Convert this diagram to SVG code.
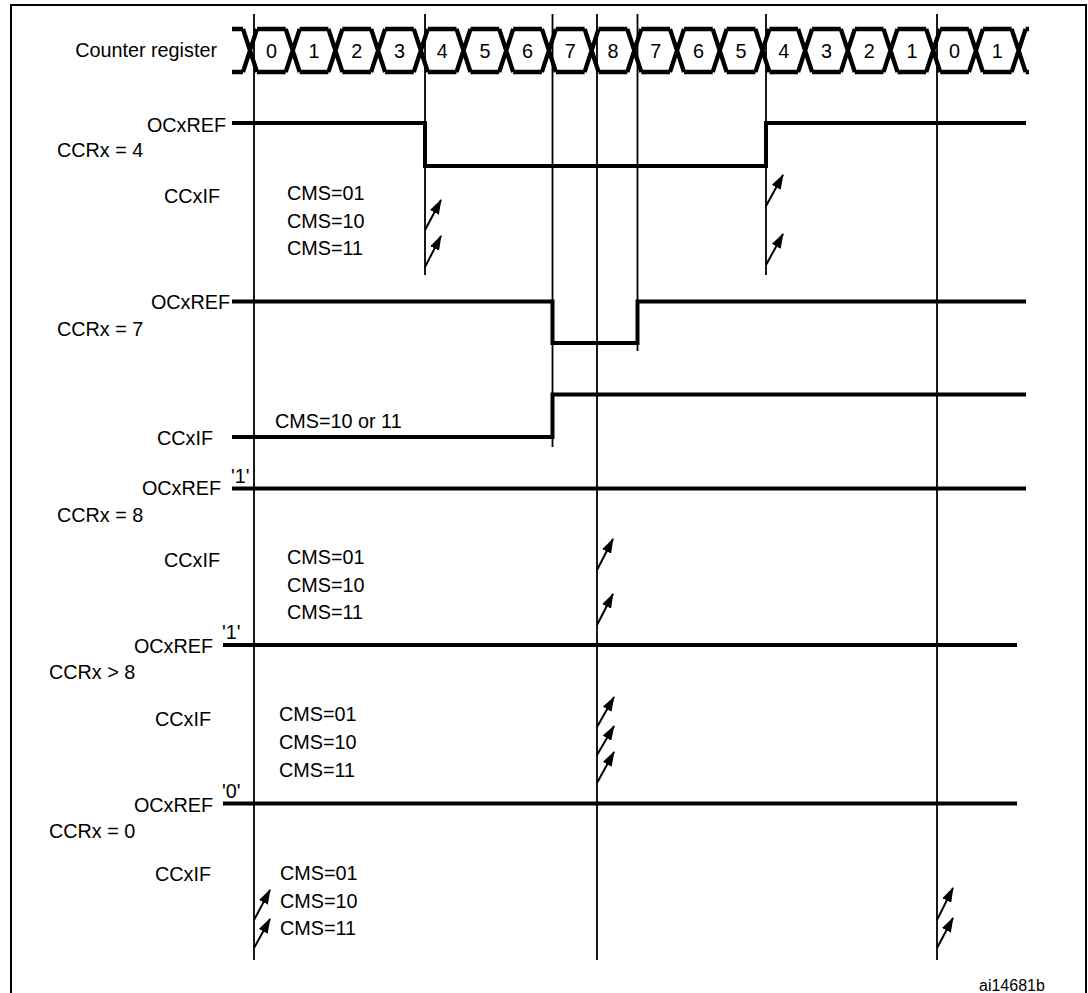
<svg xmlns="http://www.w3.org/2000/svg" width="1088" height="993" viewBox="0 0 1088 993">
<style>
text{font-family:"Liberation Sans",Arial,sans-serif;font-size:19.8px;fill:#000}
.e{text-anchor:end}
.m{text-anchor:middle}
.sig{fill:none;stroke:#000;stroke-width:4;stroke-linejoin:miter;stroke-linecap:butt}
.grid{fill:none;stroke:#000;stroke-width:1.8}
.bus{fill:none;stroke:#000;stroke-width:4.3;stroke-linecap:butt}
.arr{fill:none;stroke:#000;stroke-width:2;marker-end:url(#ah)}
.small{font-size:16px}
</style>
<defs>
<marker id="ah" viewBox="0 0 15 10" refX="14" refY="5" markerWidth="15" markerHeight="10" markerUnits="userSpaceOnUse" orient="auto">
<path d="M0,0 L15,5 L0,10 z" fill="#000"/>
</marker>
</defs>
<rect x="0" y="0" width="1088" height="993" fill="#fff"/>
<rect id="frame" x="11" y="5" width="1075" height="1010" fill="none" stroke="#000" stroke-width="2"/>

<g id="connectors">
<line class="grid" x1="254" y1="14" x2="254" y2="960"/>
<line class="grid" x1="425" y1="14" x2="425" y2="275"/>
<line class="grid" x1="552.5" y1="14" x2="552.5" y2="447"/>
<line class="grid" x1="597" y1="14" x2="597" y2="960"/>
<line class="grid" x1="637.5" y1="14" x2="637.5" y2="351"/>
<line class="grid" x1="766" y1="14" x2="766" y2="275"/>
<line class="grid" x1="937" y1="14" x2="937" y2="960"/>
</g>

<g id="counter">
<text x="217" y="57" class="e">Counter register</text>
<path class="bus" d="M232,29H243 M257,29H285.7 M299.7,29H328.4 M342.4,29H371.1 M385.1,29H413.8 M427.8,29H456.5 M470.5,29H499.2 M513.2,29H541.9 M555.9,29H584.6 M598.6,29H627.3 M641.3,29H670 M684,29H712.7 M726.7,29H755.4 M769.4,29H798.1 M812.1,29H840.8 M854.8,29H883.5 M897.5,29H926.2 M940.2,29H968.9 M982.9,29H1011.6 M1025.6,29H1029
M232,72H243 M257,72H285.7 M299.7,72H328.4 M342.4,72H371.1 M385.1,72H413.8 M427.8,72H456.5 M470.5,72H499.2 M513.2,72H541.9 M555.9,72H584.6 M598.6,72H627.3 M641.3,72H670 M684,72H712.7 M726.7,72H755.4 M769.4,72H798.1 M812.1,72H840.8 M854.8,72H883.5 M897.5,72H926.2 M940.2,72H968.9 M982.9,72H1011.6 M1025.6,72H1029
M243,29L257,72M243,72L257,29
M285.7,29L299.7,72M285.7,72L299.7,29
M328.4,29L342.4,72M328.4,72L342.4,29
M371.1,29L385.1,72M371.1,72L385.1,29
M413.8,29L427.8,72M413.8,72L427.8,29
M456.5,29L470.5,72M456.5,72L470.5,29
M499.2,29L513.2,72M499.2,72L513.2,29
M541.9,29L555.9,72M541.9,72L555.9,29
M584.6,29L598.6,72M584.6,72L598.6,29
M627.3,29L641.3,72M627.3,72L641.3,29
M670,29L684,72M670,72L684,29
M712.7,29L726.7,72M712.7,72L726.7,29
M755.4,29L769.4,72M755.4,72L769.4,29
M798.1,29L812.1,72M798.1,72L812.1,29
M840.8,29L854.8,72M840.8,72L854.8,29
M883.5,29L897.5,72M883.5,72L897.5,29
M926.2,29L940.2,72M926.2,72L940.2,29
M968.9,29L982.9,72M968.9,72L982.9,29
M1011.6,29L1025.6,72M1011.6,72L1025.6,29"/>
<text class="m" x="271.4" y="57.5">0</text>
<text class="m" x="314.1" y="57.5">1</text>
<text class="m" x="356.8" y="57.5">2</text>
<text class="m" x="399.5" y="57.5">3</text>
<text class="m" x="442.2" y="57.5">4</text>
<text class="m" x="484.9" y="57.5">5</text>
<text class="m" x="527.6" y="57.5">6</text>
<text class="m" x="570.3" y="57.5">7</text>
<text class="m" x="613" y="57.5">8</text>
<text class="m" x="655.7" y="57.5">7</text>
<text class="m" x="698.4" y="57.5">6</text>
<text class="m" x="741.1" y="57.5">5</text>
<text class="m" x="783.8" y="57.5">4</text>
<text class="m" x="826.5" y="57.5">3</text>
<text class="m" x="869.2" y="57.5">2</text>
<text class="m" x="911.9" y="57.5">1</text>
<text class="m" x="954.6" y="57.5">0</text>
<text class="m" x="997.3" y="57.5">1</text>
</g>

<g id="ccr4">
<text x="226" y="132" class="e">OCxREF</text>
<text x="57" y="157">CCRx = 4</text>
<text x="220" y="203" class="e">CCxIF</text>
<text x="287" y="200">CMS=01</text>
<text x="287" y="228">CMS=10</text>
<text x="287" y="255">CMS=11</text>
<path class="sig" d="M232,123H425V166H766V123H1026"/>
<line class="arr" x1="425" y1="230" x2="441" y2="200"/>
<line class="arr" x1="425" y1="267" x2="441" y2="236"/>
<line class="arr" x1="766" y1="206" x2="783" y2="175"/>
<line class="arr" x1="766" y1="265" x2="783" y2="234"/>
</g>

<g id="ccr7">
<text x="230" y="309" class="e">OCxREF</text>
<text x="57" y="336">CCRx = 7</text>
<text x="213" y="445" class="e">CCxIF</text>
<text x="275" y="428">CMS=10 or 11</text>
<path class="sig" d="M232,301.5H552.5V343H637.5V301.5H1026"/>
<path class="sig" d="M232,437H552.5V394.5H1026"/>
</g>

<g id="ccr8">
<text x="231" y="483">'1'</text>
<text x="221" y="495" class="e">OCxREF</text>
<text x="57" y="522">CCRx = 8</text>
<text x="220" y="567" class="e">CCxIF</text>
<text x="287" y="564">CMS=01</text>
<text x="287" y="592">CMS=10</text>
<text x="287" y="619">CMS=11</text>
<path class="sig" d="M232,488.5H1026"/>
<line class="arr" x1="597" y1="570" x2="613" y2="539"/>
<line class="arr" x1="597" y1="625" x2="613" y2="594"/>
</g>

<g id="ccrgt8">
<text x="222" y="639">'1'</text>
<text x="213" y="653" class="e">OCxREF</text>
<text x="49" y="679">CCRx &gt; 8</text>
<text x="211" y="726" class="e">CCxIF</text>
<text x="279" y="721">CMS=01</text>
<text x="279" y="749">CMS=10</text>
<text x="279" y="777">CMS=11</text>
<path class="sig" d="M223,645H1017"/>
<line class="arr" x1="597" y1="727" x2="614" y2="697"/>
<line class="arr" x1="597" y1="755" x2="614" y2="726"/>
<line class="arr" x1="597" y1="783" x2="614" y2="752"/>
</g>

<g id="ccr0">
<text x="222" y="798">'0'</text>
<text x="213" y="812" class="e">OCxREF</text>
<text x="49" y="838">CCRx = 0</text>
<text x="211" y="881" class="e">CCxIF</text>
<text x="280" y="880">CMS=01</text>
<text x="280" y="908">CMS=10</text>
<text x="280" y="935">CMS=11</text>
<path class="sig" d="M223,803.5H1017"/>
<line class="arr" x1="254" y1="920" x2="270" y2="890"/>
<line class="arr" x1="254" y1="948" x2="270" y2="919"/>
<line class="arr" x1="937" y1="920" x2="953" y2="888"/>
<line class="arr" x1="937" y1="948" x2="953" y2="918"/>
</g>

<text x="979" y="991" class="small">ai14681b</text>
</svg>
